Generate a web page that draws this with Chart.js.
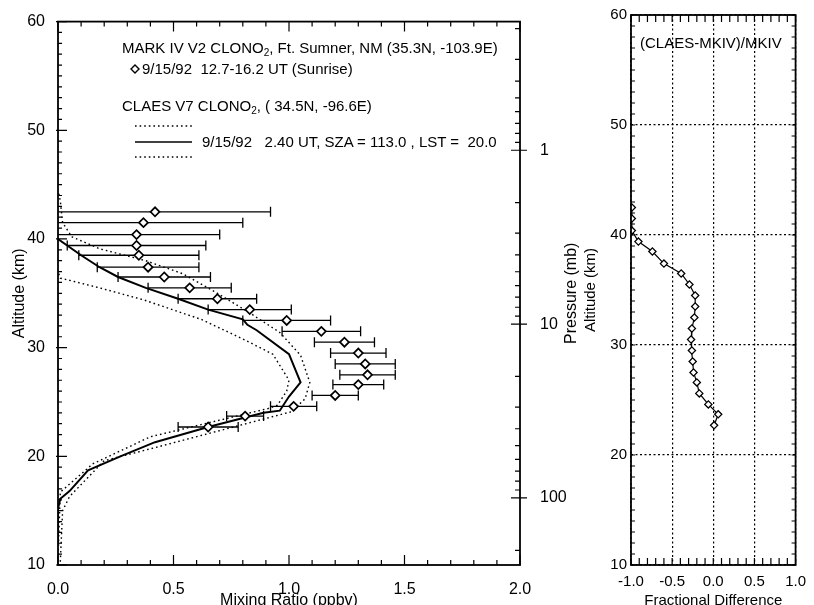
<!DOCTYPE html>
<html>
<head>
<meta charset="utf-8">
<title>CLONO2 profiles</title>
<script src="https://cdn.jsdelivr.net/npm/chart.js@4.4.1/dist/chart.umd.min.js"></script>
<style>
  body { margin: 0; width: 814px; height: 605px; overflow: hidden; background: #fff; position: relative;
         font-family: "Liberation Sans", Arial, sans-serif; color: #000; }
  canvas { position: absolute; top: 0; }
  #profile { left: 0; }
  #ratio { left: 580px; }
  .lbl { position: absolute; font-size: 15px; line-height: 17px; white-space: pre; }
  .lbl sub { font-size: 10px; vertical-align: -3px; line-height: 0; }
  .key { position: absolute; }
</style>
</head>
<body>
<canvas id="profile" width="585" height="610"></canvas>
<canvas id="ratio" width="234" height="610"></canvas>

<div class="lbl" style="left:122px; top:39px">MARK IV V2 CLONO<sub>2</sub>, Ft. Sumner, NM (35.3N, -103.9E)</div>
<svg class="key" style="left:130px; top:64px" width="10" height="10"><polygon points="5,1 9,5 5,9 1,5" fill="#fff" stroke="#000" stroke-width="1.4"/></svg>
<div class="lbl" style="left:142px; top:60px">9/15/92  12.7-16.2 UT (Sunrise)</div>
<div class="lbl" style="left:122px; top:97px">CLAES V7 CLONO<sub>2</sub>, ( 34.5N, -96.6E)</div>
<svg class="key" style="left:135px; top:120px" width="58" height="42">
  <line x1="0" y1="6" x2="57" y2="6" stroke="#000" stroke-width="1.4" stroke-dasharray="1.6 3"/>
  <line x1="0" y1="22" x2="57" y2="22" stroke="#000" stroke-width="1.5"/>
  <line x1="0" y1="37" x2="57" y2="37" stroke="#000" stroke-width="1.4" stroke-dasharray="1.6 3"/>
</svg>
<div class="lbl" style="left:202px; top:133px">9/15/92   2.40 UT, SZA = 113.0 , LST =  20.0</div>
<div class="lbl" style="left:640px; top:34px">(CLAES-MKIV)/MKIV</div>

<script>
// MkIV balloon profile: altitude (km), CLONO2 (ppbv) and its 1-sigma error
const mk4Alt = [42.5, 41.5, 40.4, 39.4, 38.5, 37.4, 36.5, 35.5, 34.5, 33.5, 32.5,
                31.5, 30.5, 29.5, 28.5, 27.5, 26.6, 25.6, 24.6, 23.7, 22.7];
const mk4Vmr = [0.42, 0.37, 0.34, 0.34, 0.35, 0.39, 0.46, 0.57, 0.69, 0.83, 0.99,
                1.14, 1.24, 1.30, 1.33, 1.34, 1.30, 1.20, 1.02, 0.81, 0.65];
const mk4Err = [0.50, 0.43, 0.36, 0.30, 0.26, 0.22, 0.20, 0.18, 0.17, 0.18, 0.19,
                0.17, 0.13, 0.12, 0.13, 0.12, 0.11, 0.10, 0.10, 0.08, 0.13];

// CLAES V7 profile
const claesAlt = [12.0, 15.2, 16.1, 16.8, 18.7, 20.0, 21.3, 22.7, 24.0, 24.2, 25.5, 26.8,
                  29.4, 31.6, 32.1, 32.6, 33.5, 34.5, 35.5, 36.5, 37.4, 38.5, 40.0];
const claesVmr = [0.0, 0.0, 0.01, 0.05, 0.13, 0.27, 0.42, 0.65, 0.89, 0.96, 1.00, 1.05,
                  1.00, 0.86, 0.82, 0.80, 0.65, 0.52, 0.38, 0.26, 0.18, 0.10, 0.0];
// CLAES lower / upper envelope
const claesLoAlt = [10.5, 16.7, 19.3, 21.8, 24.4, 24.7, 26.0, 27.0, 29.4, 30.8, 32.6, 34.4, 35.5, 36.4, 37.0];
const claesLoVmr = [0.0, 0.01, 0.15, 0.40, 0.91, 0.95, 0.99, 1.00, 0.93, 0.80, 0.62, 0.37, 0.18, 0.01, 0.0];
const claesHiAlt = [10.3, 15.0, 16.3, 19.6, 20.8, 24.1, 25.3, 26.8, 29.3, 31.4, 33.2,
                    35.0, 36.8, 38.0, 39.1, 40.2, 41.5, 43.5, 44.5];
const claesHiVmr = [0.01, 0.02, 0.05, 0.20, 0.42, 1.01, 1.07, 1.09, 1.05, 0.96, 0.83,
                    0.69, 0.54, 0.38, 0.18, 0.06, 0.02, 0.01, 0.0];

// (CLAES-MKIV)/MKIV at the MkIV levels
const fracDiff = [-0.99, -0.99, -0.99, -0.91, -0.74, -0.60, -0.39, -0.29, -0.22, -0.22, -0.23,
                  -0.26, -0.27, -0.26, -0.25, -0.24, -0.20, -0.17, -0.06, 0.06, 0.01];

// pressure axis: values at the 60 km top and 10 km bottom, labelled decades
const presTop = 0.182, presBottom = 243;
const presLabels = [1, 10, 100];

Chart.defaults.font.family = '"Liberation Sans", Arial, sans-serif';
Chart.defaults.font.size = 15;
Chart.defaults.color = '#000';

const pts = (xs, ys) => xs.map((x, i) => ({ x: x, y: ys[i] }));
const steps = (a, b, d) => {
  const r = [];
  for (let v = a; v <= b + 1e-9; v += d) r.push(+v.toFixed(3));
  return r;
};
const presMinor = [];
[0.1, 1, 10, 100].forEach(dec => {
  for (let m = 2; m <= 9; m++) {
    const v = +(m * dec).toFixed(3);
    if (v >= presTop && v <= presBottom) presMinor.push(v);
  }
});

// box around the plot plus inward tick marks
function frameWith(marks) {
  return {
    id: 'frame',
    afterDraw(chart) {
      const { ctx, chartArea: a } = chart;
      ctx.save();
      ctx.strokeStyle = '#000';
      ctx.lineWidth = 1.2;
      ctx.beginPath();
      marks.forEach(m => {
        const sc = chart.scales[m.scale];
        m.at.forEach(v => {
          const p = sc.getPixelForValue(v);
          const out = m.out || 0;
          if (m.side === 'top') { ctx.moveTo(p, a.top - out); ctx.lineTo(p, a.top + m.len); }
          if (m.side === 'bottom') { ctx.moveTo(p, a.bottom + out); ctx.lineTo(p, a.bottom - m.len); }
          if (m.side === 'left') { ctx.moveTo(a.left - out, p); ctx.lineTo(a.left + m.len, p); }
          if (m.side === 'right') { ctx.moveTo(a.right + out, p); ctx.lineTo(a.right - m.len, p); }
        });
      });
      ctx.stroke();
      ctx.lineWidth = 1.8;
      ctx.strokeRect(a.left, a.top, a.right - a.left, a.bottom - a.top);
      ctx.restore();
    }
  };
}

// title of the pressure axis, reading upwards like the altitude title
const pressureTitle = {
  id: 'pressureTitle',
  afterDraw(chart) {
    const { ctx, chartArea: a } = chart;
    ctx.save();
    ctx.translate(572, (a.top + a.bottom) / 2);
    ctx.rotate(-Math.PI / 2);
    ctx.font = '16px "Liberation Sans", Arial, sans-serif';
    ctx.fillStyle = '#000';
    ctx.textAlign = 'center';
    ctx.textBaseline = 'middle';
    ctx.fillText('Pressure (mb)', 0, 0);
    ctx.restore();
  }
};

// horizontal MkIV error bars with end caps
const errorBars = {
  id: 'errorBars',
  beforeDatasetsDraw(chart) {
    const { ctx, chartArea: a, scales: { x, y } } = chart;
    ctx.save();
    ctx.beginPath();
    ctx.rect(a.left, a.top, a.right - a.left, a.bottom - a.top);
    ctx.clip();
    ctx.strokeStyle = '#000';
    ctx.lineWidth = 1.3;
    ctx.beginPath();
    mk4Vmr.forEach((v, i) => {
      const py = y.getPixelForValue(mk4Alt[i]);
      const x0 = x.getPixelForValue(v - mk4Err[i]);
      const x1 = x.getPixelForValue(v + mk4Err[i]);
      ctx.moveTo(x0, py); ctx.lineTo(x1, py);
      ctx.moveTo(x0, py - 5); ctx.lineTo(x0, py + 5);
      ctx.moveTo(x1, py - 5); ctx.lineTo(x1, py + 5);
    });
    ctx.stroke();
    ctx.restore();
  }
};

const noGrid = { display: false };
const noBorder = { display: false };
const bigFont = { size: 16 };

new Chart(document.getElementById('profile'), {
  type: 'scatter',
  data: {
    datasets: [
      {
        label: 'MkIV',
        data: pts(mk4Vmr, mk4Alt),
        pointStyle: 'rectRot',
        pointRadius: 4.5,
        pointBorderWidth: 1.7,
        pointBackgroundColor: '#fff',
        pointBorderColor: '#000'
      },
      {
        label: 'CLAES',
        data: pts(claesVmr, claesAlt),
        showLine: true,
        borderColor: '#000',
        borderWidth: 2,
        pointRadius: 0,
        clip: 0
      },
      {
        label: 'CLAES low',
        data: pts(claesLoVmr, claesLoAlt),
        showLine: true,
        borderColor: '#000',
        borderWidth: 1.4,
        borderDash: [1.6, 3],
        pointRadius: 0,
        clip: 0
      },
      {
        label: 'CLAES high',
        data: pts(claesHiVmr, claesHiAlt),
        showLine: true,
        borderColor: '#000',
        borderWidth: 1.4,
        borderDash: [1.6, 3],
        pointRadius: 0,
        clip: 0
      }
    ]
  },
  options: {
    responsive: false,
    animation: false,
    layout: { padding: { top: 15 } },
    plugins: { legend: { display: false }, tooltip: { enabled: false } },
    scales: {
      x: {
        type: 'linear', min: 0, max: 2,
        grid: noGrid, border: noBorder,
        ticks: { stepSize: 0.5, padding: 7, font: bigFont, maxRotation: 0, autoSkip: false, callback: v => v.toFixed(1) },
        title: { display: true, text: 'Mixing Ratio (ppbv)', font: bigFont, padding: 0 },
        afterFit: s => { s.height = 45; }
      },
      y: {
        type: 'linear', min: 10, max: 60,
        grid: noGrid, border: noBorder,
        ticks: { stepSize: 10, padding: 5, font: bigFont },
        title: { display: true, text: 'Altitude (km)', font: bigFont, padding: { top: 10, bottom: 0 } },
        afterFit: s => { s.width = 58; }
      },
      y2: {
        type: 'logarithmic', position: 'right', reverse: true,
        min: presTop, max: presBottom,
        grid: noGrid, border: noBorder,
        ticks: {
          padding: 12, autoSkip: false, font: bigFont,
          callback: v => presLabels.some(p => Math.abs(p - v) < 1e-6) ? String(Math.round(v)) : ''
        },
        afterFit: s => { s.width = 65; }
      }
    }
  },
  plugins: [errorBars, pressureTitle, frameWith([
    { scale: 'x', side: 'bottom', at: steps(0, 2, 0.1), len: 5 },
    { scale: 'x', side: 'bottom', at: steps(0, 2, 0.5), len: 10 },
    { scale: 'x', side: 'top', at: steps(0, 2, 0.1), len: 5 },
    { scale: 'x', side: 'top', at: steps(0, 2, 0.5), len: 10 },
    { scale: 'y', side: 'left', at: steps(10, 60, 1), len: 4 },
    { scale: 'y', side: 'left', at: steps(10, 60, 10), len: 9, out: 2 },
    { scale: 'y2', side: 'right', at: presMinor, len: 5 },
    { scale: 'y2', side: 'right', at: presLabels, len: 9, out: 7 }
  ])]
});

const dotGrid = { display: true, color: '#000', lineWidth: 1.2, drawTicks: false };
const dotBorder = { display: false, dash: [2, 2.5] };

new Chart(document.getElementById('ratio'), {
  type: 'scatter',
  data: {
    datasets: [{
      label: 'fractional difference',
      data: pts(fracDiff, mk4Alt),
      showLine: true,
      borderColor: '#000',
      borderWidth: 1.2,
      pointStyle: 'rectRot',
      pointRadius: 3.6,
      pointBorderWidth: 1.3,
      pointBackgroundColor: '#fff',
      pointBorderColor: '#000',
      clip: 0
    }]
  },
  options: {
    responsive: false,
    animation: false,
    layout: { padding: { top: 15, right: 14 } },
    plugins: { legend: { display: false }, tooltip: { enabled: false } },
    scales: {
      x: {
        type: 'linear', min: -1, max: 1,
        grid: dotGrid, border: dotBorder,
        ticks: { stepSize: 0.5, padding: 8, maxRotation: 0, autoSkip: false, callback: v => v.toFixed(1) },
        title: { display: true, text: 'Fractional Difference', padding: 0 },
        afterFit: s => { s.height = 45; }
      },
      y: {
        type: 'linear', min: 10, max: 60,
        grid: dotGrid, border: dotBorder,
        ticks: { stepSize: 10, padding: 4 },
        title: { display: true, text: 'Altitude (km)', padding: { top: 2, bottom: 0 } },
        afterFit: s => { s.width = 51; }
      }
    }
  },
  plugins: [frameWith([
    { scale: 'x', side: 'bottom', at: steps(-1, 1, 0.1), len: 7 },
    { scale: 'x', side: 'top', at: steps(-1, 1, 0.1), len: 7 },
    { scale: 'y', side: 'left', at: steps(10, 60, 1), len: 4 },
    { scale: 'y', side: 'right', at: steps(10, 60, 1), len: 4 }
  ])]
});
</script>
</body>
</html>
